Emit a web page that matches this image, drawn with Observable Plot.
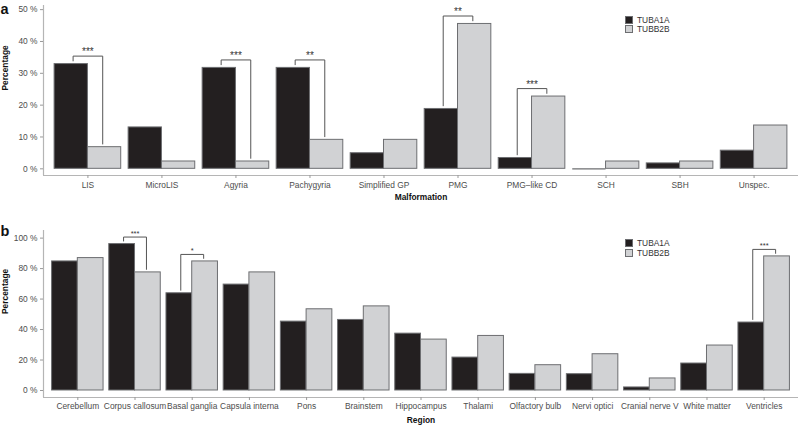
<!DOCTYPE html>
<html>
<head>
<meta charset="utf-8">
<script src="https://cdn.jsdelivr.net/npm/d3@7"></script>
<script src="https://cdn.jsdelivr.net/npm/@observablehq/plot@0.6"></script>
<style>
  html, body { margin: 0; padding: 0; background: #fff; }
  #root { position: relative; width: 798px; height: 427px; overflow: hidden; font-family: "Liberation Sans", Arial, sans-serif; }
  .panel { position: absolute; left: 0; }
  .legend { position: absolute; left: 625px; font-size: 8.4px; color: #333; }
  .legend .row { display: flex; align-items: center; height: 9.3px; }
  .legend .sw { width: 8px; height: 8px; box-sizing: border-box; border: 1px solid #6d6e71; margin-right: 4px; }
</style>
</head>
<body>
<div id="root"></div>
<script>
// ---------- data ----------
const genes = ["TUBA1A", "TUBB2B"];
const geneColors = ["#231f20", "#d1d2d4"];

const malformations = ["LIS", "MicroLIS", "Agyria", "Pachygyria", "Simplified GP", "PMG", "PMG\u2013like CD", "SCH", "SBH", "Unspec."];
const tuba1aMalf = [32.9, 13.0, 31.7, 31.7, 4.9, 18.8, 3.4, 0, 1.7, 5.7];
const tubb2bMalf = [6.8, 2.3, 2.3, 9.1, 9.1, 45.5, 22.7, 2.3, 2.3, 13.6];
const sigMalfCats = ["LIS", "Agyria", "Pachygyria", "PMG", "PMG\u2013like CD"];
const sigMalfLabels = ["***", "***", "**", "**", "***"];
const yTicksMalf = [0, 10, 20, 30, 40, 50];

const regions = ["Cerebellum", "Corpus callosum", "Basal ganglia", "Capsula interna", "Pons", "Brainstem", "Hippocampus", "Thalami", "Olfactory bulb", "Nervi optici", "Cranial nerve V", "White matter", "Ventricles"];
const tuba1aReg = [84.7, 96.1, 63.8, 69.5, 45.2, 46.3, 37.3, 21.6, 10.9, 10.7, 2.0, 17.7, 44.6];
const tubb2bReg = [86.9, 77.5, 84.7, 77.5, 53.3, 55.2, 33.4, 35.8, 16.6, 23.8, 7.9, 29.5, 88.0];
const sigRegCats = ["Corpus callosum", "Basal ganglia", "Ventricles"];
const sigRegLabels = ["***", "*", "***"];
const yTicksReg = [0, 20, 40, 60, 80, 100];

// ---------- drawing ----------
const FONT = "Liberation Sans, Arial, sans-serif";
const DODGE = 0.45;   // half of ggplot dodge width 0.9
const LEG = 0.2;      // bracket leg offset from category centre

function panel(o) {
  const n = o.cats.length;
  const xDomain = [0.4, n + 0.6];
  const rows = o.cats.flatMap((c, i) => [
    {c, i, g: 0, v: o.v1[i]},
    {c, i, g: 1, v: o.v2[i]}
  ]);
  const x1 = d => d.i + 1 - (d.g === 0 ? DODGE : 0);
  const x2 = d => d.i + 1 + (d.g === 1 ? DODGE : 0);
  const sigRows = o.sigCats.map((c, k) => {
    const i = o.cats.indexOf(c);
    const a = o.v1[i], b = o.v2[i];
    return {i, k, a, b, top: Math.max(a, b) + o.offset, label: o.sigLabels[k]};
  });
  const bracketPts = sigRows.flatMap(s => [
    {k: s.k, x: s.i + 1 - LEG, y: s.a + o.gap},
    {k: s.k, x: s.i + 1 - LEG, y: s.top},
    {k: s.k, x: s.i + 1 + LEG, y: s.top},
    {k: s.k, x: s.i + 1 + LEG, y: s.b + o.gap}
  ]);
  return Plot.plot({
    width: 798,
    height: o.height,
    marginLeft: 43,
    marginRight: 0,
    marginTop: o.marginTop,
    marginBottom: o.marginBottom,
    style: {fontFamily: FONT, background: "transparent", overflow: "visible"},
    x: {type: "linear", domain: xDomain},
    y: {domain: o.yDomain},
    marks: [
      Plot.rectY(rows, {x1, x2, y: "v", fill: d => geneColors[d.g], stroke: "#6d6e71", strokeWidth: 1}),
      Plot.ruleY(rows.filter(d => d.v === 0), {x1, x2, y: "v", stroke: "#6d6e71", strokeWidth: 1.2}),
      Plot.line(bracketPts, {x: "x", y: "y", z: "k", stroke: "#555", strokeWidth: 1}),
      Plot.text(sigRows, {x: d => d.i + 1, y: "top", text: "label", lineAnchor: "bottom", dy: -1, fontSize: o.starSize, fill: "#333"}),
      Plot.ruleX([xDomain[0]], {stroke: "#b5b5b5", strokeWidth: 1.2}),
      Plot.ruleY([o.yDomain[0]], {stroke: "#b5b5b5", strokeWidth: 1.2}),
      Plot.axisY({ticks: o.yTicks, tickFormat: d => `${d} %`, tickSize: 3, tickPadding: 3, fontSize: 8.4, stroke: "#999", fill: "#4d4d4d", label: null}),
      Plot.axisX({ticks: o.cats.map((_, i) => i + 1), tickFormat: t => o.cats[t - 1], tickSize: 3, tickPadding: o.tickPad, fontSize: 8.4, stroke: "#999", fill: "#4d4d4d", label: null}),
      Plot.text([o.xTitle], {frameAnchor: "bottom", dy: o.titleDy, fontWeight: "bold", fontSize: 8.4, fill: "#111"}),
      Plot.text(["Percentage"], {frameAnchor: "left", rotate: -90, dx: -38, fontWeight: "bold", fontSize: 8.4, fill: "#111"}),
      Plot.text([o.letter], {frameAnchor: "top-left", dx: -43, dy: o.letterDy, textAnchor: "start", lineAnchor: "bottom", fontWeight: "bold", fontSize: 14.5, fill: "#111"})
    ]
  });
}

function legend(top) {
  const div = document.createElement("div");
  div.className = "legend";
  div.style.top = top + "px";
  genes.forEach((g, i) => {
    const r = document.createElement("div");
    r.className = "row";
    const sw = document.createElement("div");
    sw.className = "sw";
    sw.style.background = geneColors[i];
    const t = document.createElement("span");
    t.textContent = g;
    r.appendChild(sw); r.appendChild(t);
    div.appendChild(r);
  });
  return div;
}

const root = document.getElementById("root");

const a = panel({
  cats: malformations, v1: tuba1aMalf, v2: tubb2bMalf,
  sigCats: sigMalfCats, sigLabels: sigMalfLabels,
  yDomain: [-2.1, 51.3], yTicks: yTicksMalf,
  height: 213, marginTop: 5, marginBottom: 38,
  offset: 2.5, gap: 1, starSize: 10, tickPad: 4,
  xTitle: "Malformation", titleDy: 24, letter: "a", letterDy: 8
});
const wa = document.createElement("div");
wa.className = "panel"; wa.style.top = "0px";
wa.appendChild(a);
root.appendChild(wa);

const b = panel({
  cats: regions, v1: tuba1aReg, v2: tubb2bReg,
  sigCats: sigRegCats, sigLabels: sigRegLabels,
  yDomain: [-4.6, 105], yTicks: yTicksReg,
  height: 214, marginTop: 17, marginBottom: 30,
  offset: 4.6, gap: 2, starSize: 7.5, tickPad: 2.5,
  xTitle: "Region", titleDy: 25, letter: "b", letterDy: 5
});
const wb = document.createElement("div");
wb.className = "panel"; wb.style.top = "213px";
wb.appendChild(b);
root.appendChild(wb);

root.appendChild(legend(15.5));
root.appendChild(legend(238.7));
</script>
</body>
</html>
